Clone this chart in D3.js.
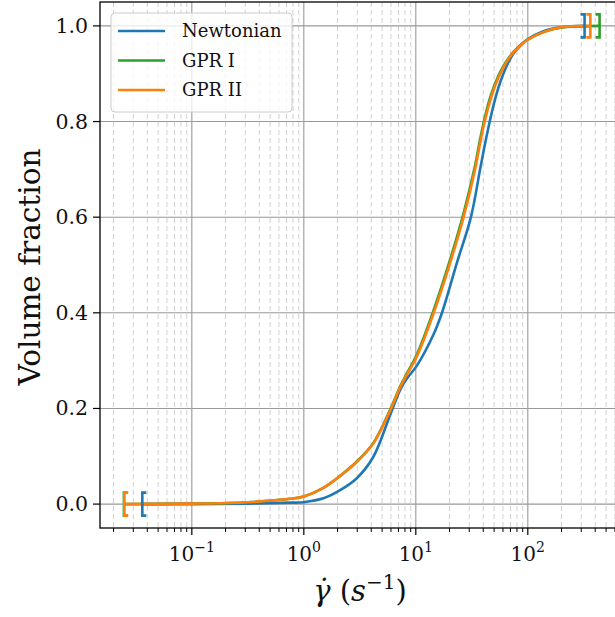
<!DOCTYPE html>
<html>
<head>
<meta charset="utf-8">
<script src="https://cdn.jsdelivr.net/npm/d3@7"></script>
<style>
  body { margin: 0; background: #fff; }
  svg { display: block; font-family: "DejaVu Serif", "Liberation Serif", serif; }
</style>
</head>
<body>
<div id="chart-container"></div>
<script>
// Cumulative volume fraction vs shear rate
const seriesNames = ["Newtonian", "GPR I", "GPR II"];
const seriesColors = ["#1f77b4", "#2ca02c", "#ff7f0e"];

const newtonianRate = [0.0365, 0.1, 0.316, 0.759, 1.0, 1.496, 2.109, 2.972, 4.178, 5.888, 7.244, 8.299, 10.19, 14.35, 17.06, 23.23, 30.97, 37.5, 41.2, 45.2, 49.5, 54.5, 60, 66.5, 74.3, 85, 97.9, 138, 195, 318];
const newtonianFrac = [0, 0, 0.001, 0.003, 0.004, 0.012, 0.029, 0.054, 0.099, 0.186, 0.239, 0.262, 0.289, 0.354, 0.399, 0.504, 0.599, 0.70, 0.75, 0.795, 0.835, 0.87, 0.898, 0.922, 0.942, 0.958, 0.971, 0.989, 0.997, 1.0];

const gpr1Rate = [0.0250, 0.1, 0.316, 0.759, 1.0, 1.496, 2.109, 2.972, 4.178, 5.888, 7.244, 8.299, 10.19, 14.35, 20.23, 26.61, 33.81, 37.15, 41.02, 45, 49.32, 55, 60.53, 67, 74.3, 85, 97.9, 138, 195, 300, 433];
const gpr1Frac = [0, 0.001, 0.004, 0.011, 0.016, 0.034, 0.059, 0.089, 0.128, 0.197, 0.246, 0.273, 0.312, 0.404, 0.511, 0.607, 0.708, 0.758, 0.805, 0.842, 0.87, 0.897, 0.916, 0.932, 0.945, 0.959, 0.97, 0.987, 0.996, 0.999, 1.0];

const gpr2Rate = [0.0252, 0.1, 0.316, 0.759, 1.0, 1.496, 2.109, 2.972, 4.178, 5.888, 7.244, 8.299, 10.19, 14.35, 20.23, 26.61, 33.81, 37.15, 41.02, 45, 49.32, 55, 60.53, 67, 74.3, 85, 97.9, 138, 195, 358];
const gpr2Frac = [0, 0.001, 0.004, 0.011, 0.016, 0.034, 0.059, 0.088, 0.127, 0.195, 0.244, 0.27, 0.308, 0.398, 0.504, 0.599, 0.70, 0.75, 0.798, 0.835, 0.865, 0.893, 0.913, 0.93, 0.944, 0.958, 0.97, 0.987, 0.997, 1.0];

const yTicks = [0.0, 0.2, 0.4, 0.6, 0.8, 1.0];
const xDecades = [-2, -1, 0, 1, 2, 3];

const allSeries = [
  { name: seriesNames[0], color: seriesColors[0], rate: newtonianRate, frac: newtonianFrac },
  { name: seriesNames[1], color: seriesColors[1], rate: gpr1Rate, frac: gpr1Frac },
  { name: seriesNames[2], color: seriesColors[2], rate: gpr2Rate, frac: gpr2Frac }
];

const W = 615, H = 617;
const plotLeft = 100, plotRight = 623, plotTop = 2, plotBottom = 528;

const svg = d3.select("#chart-container")
  .append("svg")
  .attr("width", W)
  .attr("height", H);

const x = d3.scaleLog()
  .domain([Math.pow(10, -1.82), Math.pow(10, 2.85)])
  .range([plotLeft, plotRight]);

const y = d3.scaleLinear()
  .domain([-0.05, 1.05])
  .range([plotBottom, plotTop]);

const [x0, x1] = x.domain();

// minor and major x positions
const minorX = [], majorX = [];
xDecades.forEach(e => {
  const base = Math.pow(10, e);
  if (base >= x0 && base <= x1) majorX.push(base);
  for (let m = 2; m <= 9; m++) {
    const v = m * base;
    if (v >= x0 && v <= x1) minorX.push(v);
  }
});

const grid = svg.append("g");
// minor vertical grid (dashed)
grid.selectAll(".minor")
  .data(minorX)
  .enter()
  .append("line")
  .attr("x1", d => x(d)).attr("x2", d => x(d))
  .attr("y1", plotTop).attr("y2", plotBottom)
  .attr("stroke", "#d0d0d0")
  .attr("stroke-width", 1)
  .attr("stroke-dasharray", "5,3");

// major grid
grid.selectAll(".majorx")
  .data(majorX)
  .enter()
  .append("line")
  .attr("x1", d => x(d)).attr("x2", d => x(d))
  .attr("y1", plotTop).attr("y2", plotBottom)
  .attr("stroke", "#999")
  .attr("stroke-width", 1.1);

grid.selectAll(".majory")
  .data(yTicks)
  .enter()
  .append("line")
  .attr("x1", plotLeft).attr("x2", plotRight)
  .attr("y1", d => y(d)).attr("y2", d => y(d))
  .attr("stroke", "#999")
  .attr("stroke-width", 1.1);

// lines
const line = d3.line()
  .x(d => x(d[0]))
  .y(d => y(d[1]))
  .curve(d3.curveCatmullRom.alpha(0.5));

const plot = svg.append("g");
allSeries.forEach(s => {
  const pts = s.rate.map((r, i) => [r, s.frac[i]]);
  plot.append("path")
    .datum(pts)
    .attr("d", line)
    .attr("fill", "none")
    .attr("stroke", s.color)
    .attr("stroke-width", 2.6);
});

// bracket markers at min and max of each series
allSeries.forEach(s => {
  const n = s.rate.length;
  const lx = x(s.rate[0]), ly = y(s.frac[0]);
  const rx = x(s.rate[n - 1]), ry = y(s.frac[n - 1]);
  plot.append("path")
    .attr("d", `M${lx + 3.5},${ly - 11.5}H${lx - 0.5}V${ly + 11.5}H${lx + 3.5}`)
    .attr("fill", "none")
    .attr("stroke", s.color)
    .attr("stroke-width", 2.6);
  plot.append("path")
    .attr("d", `M${rx - 3.5},${ry - 11.5}H${rx + 0.5}V${ry + 11.5}H${rx - 3.5}`)
    .attr("fill", "none")
    .attr("stroke", s.color)
    .attr("stroke-width", 2.6);
});

// spines
svg.append("rect")
  .attr("x", plotLeft).attr("y", plotTop)
  .attr("width", plotRight - plotLeft).attr("height", plotBottom - plotTop)
  .attr("fill", "none")
  .attr("stroke", "#000")
  .attr("stroke-width", 1.3);

// x ticks
svg.selectAll(".xmaj")
  .data(majorX)
  .enter()
  .append("line")
  .attr("x1", d => x(d)).attr("x2", d => x(d))
  .attr("y1", plotBottom).attr("y2", plotBottom + 7)
  .attr("stroke", "#000").attr("stroke-width", 1.2);

svg.selectAll(".xmin")
  .data(minorX)
  .enter()
  .append("line")
  .attr("x1", d => x(d)).attr("x2", d => x(d))
  .attr("y1", plotBottom).attr("y2", plotBottom + 4)
  .attr("stroke", "#000").attr("stroke-width", 1);

const xl = svg.selectAll(".xlab")
  .data(majorX)
  .enter()
  .append("text")
  .attr("x", d => x(d))
  .attr("y", 561)
  .attr("text-anchor", "middle")
  .style("font-size", "20px")
  .style("fill", "#111");
xl.append("tspan").text("10");
xl.append("tspan")
  .attr("dy", -9)
  .style("font-size", "14px")
  .text(d => {
    const e = Math.round(Math.log10(d));
    return e < 0 ? "\u2212" + (-e) : String(e);
  });

// y ticks
svg.selectAll(".ytick")
  .data(yTicks)
  .enter()
  .append("line")
  .attr("x1", plotLeft - 7).attr("x2", plotLeft)
  .attr("y1", d => y(d)).attr("y2", d => y(d))
  .attr("stroke", "#000").attr("stroke-width", 1.2);

svg.selectAll(".ylab")
  .data(yTicks)
  .enter()
  .append("text")
  .attr("x", 88)
  .attr("y", d => y(d) + 7)
  .attr("text-anchor", "end")
  .style("font-size", "20.5px")
  .style("fill", "#111")
  .text(d => d.toFixed(1));

// axis labels
svg.append("text")
  .attr("transform", "translate(40,267) rotate(-90)")
  .attr("text-anchor", "middle")
  .style("font-size", "29.5px")
  .style("fill", "#111")
  .text("Volume fraction");

const xt = svg.append("text")
  .attr("x", 360)
  .attr("y", 601)
  .attr("text-anchor", "middle")
  .style("font-size", "29px")
  .style("fill", "#111");
xt.append("tspan").style("font-style", "italic").text("\u03B3\u0307");
xt.append("tspan").text(" (");
xt.append("tspan").style("font-style", "italic").text("s");
xt.append("tspan").attr("dy", -12).style("font-size", "20px").text("\u22121");
xt.append("tspan").attr("dy", 12).text(")");

// legend
const legend = svg.append("g");
legend.append("rect")
  .attr("x", 111).attr("y", 13)
  .attr("width", 181).attr("height", 99)
  .attr("rx", 4)
  .attr("fill", "#fff").attr("fill-opacity", 0.8)
  .attr("stroke", "#cccccc").attr("stroke-width", 1);

allSeries.forEach((s, i) => {
  const ly = 31 + i * 29.5;
  legend.append("line")
    .attr("x1", 118).attr("x2", 165)
    .attr("y1", ly).attr("y2", ly)
    .attr("stroke", s.color)
    .attr("stroke-width", 2.6);
  legend.append("text")
    .attr("x", 182)
    .attr("y", ly + 6)
    .style("font-size", "18px")
    .style("fill", "#111")
    .text(s.name);
});
</script>
</body>
</html>
